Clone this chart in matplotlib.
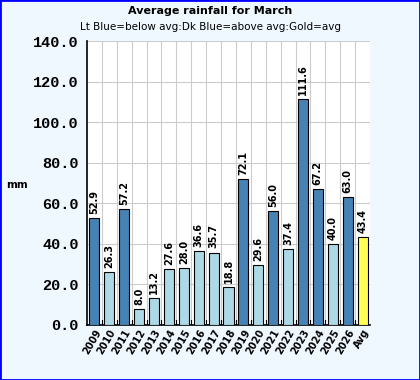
import matplotlib
matplotlib.use("Agg")
import matplotlib.pyplot as plt
from matplotlib.patches import Rectangle

# data
years = ["2009", "2010", "2011", "2012", "2013", "2014", "2015", "2016", "2017", "2018",
         "2019", "2020", "2021", "2022", "2023", "2024", "2025", "2026", "Avg"]
rain = [52.9, 26.3, 57.2, 8.0, 13.2, 27.6, 28.0, 36.6, 35.7, 18.8,
        72.1, 29.6, 56.0, 37.4, 111.6, 67.2, 40.0, 63.0, 43.4]
avg = 43.4

colors = []
for name, v in zip(years, rain):
    if name == "Avg":
        colors.append("#ffff55")
    elif v > avg:
        colors.append("#4682b4")
    else:
        colors.append("#add8e6")

fig = plt.figure(figsize=(4.2, 3.8), dpi=100, facecolor="#f0f8ff")
fig.patches.append(Rectangle((0, 0), 1, 1, transform=fig.transFigure, fill=False,
                             edgecolor="#0000ff", linewidth=2))
ax = fig.add_axes([0.207, 0.145, 0.674, 0.747])
ax.set_facecolor("white")

x = list(range(len(years)))
ax.bar(x, rain, width=0.68, color=colors, edgecolor="black", linewidth=0.8, zorder=3)
for xi, v in zip(x, rain):
    ax.text(xi, v + 2, "%.1f" % v, rotation=90, ha="center", va="bottom",
            fontsize=7, fontweight="bold", zorder=4)

ax.set_xlim(-0.5, len(years) - 0.5)
ax.set_ylim(0, 140)
ax.set_yticks(range(0, 141, 20))
ax.set_yticklabels(["%.1f" % t for t in range(0, 141, 20)],
                   fontfamily="Liberation Mono", fontweight="bold", fontsize=11)
ax.set_xticks(x)
ax.set_xticklabels(years, rotation=60, ha="right", rotation_mode="anchor",
                   fontsize=7, fontweight="bold")
ax.tick_params(axis="x", length=0, pad=2)
ax.tick_params(axis="y", length=0, pad=6)

# grid between categories and at each y tick
for b in range(1, len(years)):
    ax.axvline(b - 0.5, color="#cccccc", linewidth=0.8, zorder=1)
    ax.plot([b - 0.5, b - 0.5], [0, 2.5], color="black", linewidth=0.8, zorder=5)
ax.yaxis.grid(True, color="#cccccc", linewidth=0.8, zorder=1)

for s in ["top", "right"]:
    ax.spines[s].set_visible(False)
ax.spines["left"].set_linewidth(1.2)
ax.spines["bottom"].set_linewidth(1.2)

fig.text(0.5, 0.972, "Average rainfall for March", ha="center", va="center",
         fontsize=8, fontweight="bold")
fig.text(0.5, 0.928, "Lt Blue=below avg:Dk Blue=above avg:Gold=avg", ha="center",
         va="center", fontsize=7.5)
fig.text(0.04, 0.512, "mm", ha="center", va="center", fontsize=7.5, fontweight="bold")

fig.savefig("out.png", dpi=100, facecolor=fig.get_facecolor())
